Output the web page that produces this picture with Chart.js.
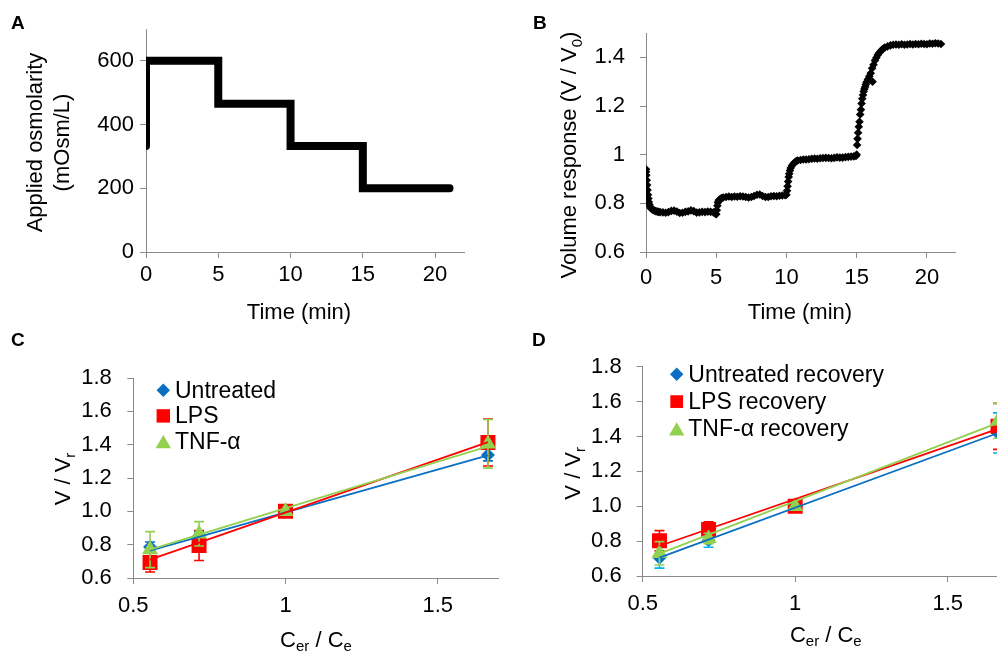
<!DOCTYPE html>
<html><head><meta charset="utf-8">
<script src="https://cdn.jsdelivr.net/npm/chart.js@4/dist/chart.umd.min.js"></script>
<style>
html,body{margin:0;padding:0;background:#fff;overflow:hidden;width:997px;height:653px;}
#wrap{position:relative;width:997px;height:653px;overflow:hidden;background:#fff;}
canvas{position:absolute;left:0;top:0;}
.lbl{position:absolute;font-family:'Liberation Sans',Arial,sans-serif;font-weight:bold;font-size:19px;line-height:1;color:#000;}
</style></head><body>
<div id="wrap">
<canvas id="cA" width="997" height="653"></canvas>
<canvas id="cB" width="997" height="653"></canvas>
<canvas id="cC" width="997" height="653"></canvas>
<canvas id="cD" width="1030" height="653"></canvas>
<div class="lbl" style="left:11px;top:13px">A</div>
<div class="lbl" style="left:533px;top:13px">B</div>
<div class="lbl" style="left:11px;top:330px">C</div>
<div class="lbl" style="left:532px;top:330px">D</div>
</div>
<script>
// ---------- Panel A: applied osmolarity ----------
const aTime = [0, 0, 5, 5, 10, 10, 15, 15, 21];
const aOsm  = [333, 600, 600, 465, 465, 333, 333, 200, 200];
const aXTicks = [0, 5, 10, 15, 20];
const aYTicks = [0, 200, 400, 600];

// ---------- Panel B: volume response ----------
const bTime = [
  0,0,0.02,0.05,0.08,0.11,0.14,0.17,0.2,0.24,0.28,0.33,0.4,0.5,0.6,0.7,0.8,0.9,1.0,
  1.2,1.4,1.6,1.8,2.0,2.2,2.4,2.6,2.8,3.0,3.2,3.4,3.6,3.8,4.0,4.2,4.4,4.6,4.8,4.95,
  5.0,5.04,5.08,5.12,5.17,5.22,5.3,5.4,5.5,5.7,5.9,6.1,6.3,6.5,6.7,6.9,7.1,7.3,7.5,7.7,7.9,8.1,8.3,8.5,8.7,8.9,9.1,9.3,9.5,9.7,9.9,
  10.0,10.04,10.08,10.12,10.16,10.2,10.25,10.3,10.4,10.5,10.6,10.7,10.8,11.0,11.2,11.4,11.6,11.8,12.0,12.2,12.4,12.6,12.8,13.0,13.2,13.4,13.6,13.8,14.0,14.2,14.4,14.6,14.8,14.95,
  15.0,15.03,15.06,15.1,15.15,15.2,15.25,15.3,15.35,15.4,15.45,15.5,15.55,15.6,15.65,15.7,15.8,15.9,16.0,16.1,16.13,16.2,16.3,16.4,16.5,16.6,16.7,16.8,16.9,17.0,17.2,17.4,17.6,17.8,18.0,18.2,18.4,18.6,18.8,19.0,19.2,19.4,19.6,19.8,20.0,20.2,20.4,20.6,20.8,21.0
];
const bVolume = [
  0.94,0.93,0.915,0.895,0.875,0.855,0.835,0.82,0.805,0.795,0.787,0.781,0.777,0.773,0.770,0.768,0.766,0.765,0.764,
  0.763,0.761,0.764,0.769,0.770,0.766,0.760,0.761,0.765,0.767,0.771,0.768,0.762,0.763,0.765,0.764,0.766,0.765,0.763,0.757,
  0.755,0.772,0.790,0.803,0.810,0.815,0.819,0.822,0.824,0.826,0.828,0.826,0.828,0.827,0.829,0.828,0.826,0.824,0.826,0.830,0.835,0.836,0.830,0.826,0.826,0.829,0.830,0.829,0.831,0.832,0.833,
  0.835,0.852,0.870,0.890,0.908,0.922,0.935,0.945,0.955,0.963,0.969,0.974,0.976,0.978,0.980,0.980,0.981,0.983,0.984,0.983,0.985,0.986,0.987,0.986,0.985,0.987,0.989,0.988,0.988,0.990,0.991,0.992,0.993,0.995,
  1.000,1.040,1.065,1.090,1.115,1.135,1.165,1.185,1.210,1.230,1.245,1.260,1.270,1.278,1.288,1.298,1.310,1.322,1.335,1.355,1.300,1.370,1.387,1.398,1.410,1.418,1.425,1.431,1.436,1.440,1.445,1.449,1.452,1.453,1.452,1.454,1.452,1.453,1.455,1.453,1.455,1.454,1.456,1.455,1.454,1.457,1.456,1.458,1.457,1.455
];
const bXTicks = [0, 5, 10, 15, 20];
const bYTicks = [0.6, 0.8, 1, 1.2, 1.4];

// ---------- Panels C & D ----------
const ratio = [0.555, 0.716, 1, 1.665];
const fitX = [0.555, 1.665];
const cdXTicks = [0.5, 1, 1.5];
const cdYTicks = [0.6, 0.8, 1.0, 1.2, 1.4, 1.6, 1.8];

const cUntreated = [0.786, 0.85, 1.0, 1.338];
const cUntreatedErr = [0.03, 0.03, 0, 0.035];
const cLPS = [0.693, 0.795, 1.0, 1.413];
const cLPSErr = [0.057, 0.09, 0, 0.141];
const cTNF = [0.77, 0.865, 1.0, 1.405];
const cTNFErr = [0.108, 0.073, 0, 0.146];
const cUntreatedFit = [0.764, 1.336];
const cLPSFit = [0.71, 1.415];
const cTNFFit = [0.77, 1.39];

const dUntreated = [0.705, 0.805, 1.0, 1.42];
const dUntreatedErr = [0.06, 0.04, 0, 0.115];
const dLPS = [0.802, 0.867, 1.0, 1.458];
const dLPSErr = [0.058, 0.044, 0, 0.132];
const dTNF = [0.73, 0.815, 1.0, 1.49];
const dTNFErr = [0.067, 0.03, 0, 0.1];
const dUntreatedFit = [0.705, 1.42];
const dLPSFit = [0.772, 1.443];
const dTNFFit = [0.728, 1.478];

// ---------- helpers ----------
const FONT = "'Liberation Sans', Arial, sans-serif";
const AXIS = '#898989';
const BLUE = '#0A6FC2', RED = '#FF0000', GREEN = '#92D050', CYAN = '#00B0F0';
const pts = (xs, ys) => xs.map((x, i) => ({x: x, y: ys[i]}));
const trim1 = v => String(+Number(v).toFixed(1));
const fix1 = v => Number(v).toFixed(1);

function axisCfg(isX, min, max, tickArr, fmt, pad, size) {
  return {
    type: 'linear', min: min, max: max,
    afterBuildTicks: s => { s.ticks = tickArr.map(v => ({value: v})); },
    afterFit: s => { if (isX) s.height = 50; else s.width = 60; },
    ticks: {callback: fmt, font: {family: FONT, size: size}, color: '#000', padding: pad, autoSkip: false, maxRotation: 0, minRotation: 0},
    grid: {display: true, drawOnChartArea: false, drawTicks: true, tickLength: 6, color: AXIS, lineWidth: 1},
    border: {display: true, color: AXIS, width: 1},
    title: {display: false}
  };
}
function baseOpts(L, T, R, B, cw, scales) {
  return {
    responsive: false, animation: false, events: [],
    layout: {padding: {left: L - 60, top: T, right: cw - R, bottom: 653 - B - 50}},
    scales: scales,
    plugins: {legend: {display: false}, tooltip: {enabled: false}}
  };
}
function makeTitles(items) {
  return {
    id: 'richTitles',
    afterDraw(chart) {
      const ctx = chart.ctx;
      items.forEach(it => {
        ctx.save();
        ctx.fillStyle = '#000';
        ctx.textAlign = 'left';
        ctx.textBaseline = 'alphabetic';
        const mainF = it.size + 'px ' + FONT, subF = it.sub + 'px ' + FONT;
        const widths = it.segs.map(s => { ctx.font = s[1] ? subF : mainF; return ctx.measureText(s[0]).width; });
        const total = widths.reduce((a, b) => a + b, 0);
        ctx.translate(it.x, it.y);
        if (it.rot) ctx.rotate(-Math.PI / 2);
        let x = -total / 2;
        it.segs.forEach((s, i) => {
          ctx.font = s[1] ? subF : mainF;
          ctx.fillText(s[0], x, s[1] ? it.dy : 0);
          x += widths[i];
        });
        ctx.restore();
      });
    }
  };
}
function drawMarker(ctx, style, r, x, y) {
  if (Chart.helpers && Chart.helpers.drawPoint) {
    Chart.helpers.drawPoint(ctx, {pointStyle: style, radius: r, rotation: 0, borderWidth: 0}, x, y);
  }
}
function makeLegend(cfg) {
  return {
    id: 'panelLegend',
    afterDraw(chart) {
      const ctx = chart.ctx, a = chart.chartArea;
      ctx.save();
      cfg.rows.forEach((di, i) => {
        const ds = chart.data.datasets[di];
        const cx = a.left + cfg.dx, cy = a.top + cfg.dy + i * cfg.rowH;
        const r = cfg.radius[i];
        ctx.fillStyle = ds.backgroundColor;
        drawMarker(ctx, ds.pointStyle, r, cx, cy + (ds.pointStyle === 'triangle' ? r / 4 : 0));
        ctx.fillStyle = '#000';
        ctx.font = cfg.size + 'px ' + FONT;
        ctx.textBaseline = 'middle';
        ctx.textAlign = 'left';
        ctx.fillText(ds.label, a.left + cfg.tx, cy + 1);
      });
      ctx.restore();
    }
  };
}
const errorBars = {
  id: 'errorBars',
  afterDatasetDraw(chart, args) {
    const ds = chart.data.datasets[args.index];
    if (!ds.errors) return;
    const ctx = chart.ctx, xs = chart.scales.x, ys = chart.scales.y;
    ctx.save();
    ctx.strokeStyle = ds.errorColor;
    ctx.lineWidth = 1.6;
    ds.data.forEach((p, i) => {
      const e = ds.errors[i];
      if (!e) return;
      const px = xs.getPixelForValue(p.x);
      const yt = ys.getPixelForValue(p.y + e), yb = ys.getPixelForValue(p.y - e);
      ctx.beginPath();
      ctx.moveTo(px, yt); ctx.lineTo(px, yb);
      ctx.moveTo(px - 5, yt); ctx.lineTo(px + 5, yt);
      ctx.moveTo(px - 5, yb); ctx.lineTo(px + 5, yb);
      ctx.stroke();
    });
    ctx.restore();
  }
};

// ---------- Chart A ----------
new Chart(document.getElementById('cA'), {
  type: 'scatter',
  data: {datasets: [{
    label: 'Applied osmolarity', data: pts(aTime, aOsm), showLine: true,
    borderColor: '#000', backgroundColor: '#000', borderWidth: 8, pointRadius: 0,
    borderCapStyle: 'round', borderJoinStyle: 'miter', tension: 0, clip: 0
  }]},
  options: baseOpts(146, 29, 464, 252, 997, {
    x: axisCfg(true, 0, 22, aXTicks, trim1, 4, 22),
    y: axisCfg(false, 0, 700, aYTicks, v => String(v), 6, 22)
  }),
  plugins: [makeTitles([
    {segs: [['Applied osmolarity']], x: 42, y: 142.5, rot: true, size: 22, sub: 15, dy: 5},
    {segs: [['(mOsm/L)']], x: 68.5, y: 142.5, rot: true, size: 22, sub: 15, dy: 5},
    {segs: [['Time (min)']], x: 299, y: 318.5, rot: false, size: 22, sub: 15, dy: 5}
  ])]
});

// ---------- Chart B ----------
new Chart(document.getElementById('cB'), {
  type: 'scatter',
  data: {datasets: [{
    label: 'Volume response', data: pts(bTime, bVolume),
    pointStyle: 'rectRot', pointRadius: 4.3, backgroundColor: '#000', borderColor: '#000', borderWidth: 0
  }]},
  options: baseOpts(646, 33, 955, 252, 997, {
    x: axisCfg(true, 0, 22, bXTicks, trim1, 6.5, 22),
    y: axisCfg(false, 0.6, 1.5, bYTicks, trim1, 15, 22)
  }),
  plugins: [makeTitles([
    {segs: [['Volume response (V / V'], ['0', true], [')']], x: 576, y: 155, rot: true, size: 22, sub: 15, dy: 6},
    {segs: [['Time (min)']], x: 800, y: 318.5, rot: false, size: 22, sub: 15, dy: 5}
  ])]
});

// ---------- Charts C & D ----------
function cdDatasets(u, uE, l, lE, t, tE, uF, lF, tF, names, uErrColor) {
  return [
    {label: names[0], data: pts(ratio, u), errors: uE, errorColor: uErrColor, pointStyle: 'rectRot', pointRadius: 7,
     backgroundColor: BLUE, borderColor: BLUE, borderWidth: 0, order: 2},
    {label: names[1], data: pts(ratio, l), errors: lE, errorColor: RED, pointStyle: 'rect', pointRadius: 10.6,
     backgroundColor: RED, borderColor: RED, borderWidth: 0, order: 1},
    {label: names[2], data: pts(ratio, t), errors: tE, errorColor: GREEN, pointStyle: 'triangle', pointRadius: 9.3,
     backgroundColor: GREEN, borderColor: GREEN, borderWidth: 0, order: 0},
    {label: 'fit-u', data: pts(fitX, uF), showLine: true, pointRadius: 0, borderColor: BLUE, borderWidth: 1.8, order: -1},
    {label: 'fit-l', data: pts(fitX, lF), showLine: true, pointRadius: 0, borderColor: RED, borderWidth: 1.8, order: -2},
    {label: 'fit-t', data: pts(fitX, tF), showLine: true, pointRadius: 0, borderColor: GREEN, borderWidth: 1.8, order: -3}
  ];
}

new Chart(document.getElementById('cC'), {
  type: 'scatter',
  data: {datasets: cdDatasets(cUntreated, cUntreatedErr, cLPS, cLPSErr, cTNF, cTNFErr,
    cUntreatedFit, cLPSFit, cTNFFit, ['Untreated', 'LPS', 'TNF-\u03b1'], BLUE)},
  options: baseOpts(133.3, 378, 498.6, 578, 997, {
    x: axisCfg(true, 0.5, 1.7, cdXTicks, trim1, 9, 22),
    y: axisCfg(false, 0.6, 1.8, cdYTicks, fix1, 15.5, 22)
  }),
  plugins: [errorBars,
    makeLegend({rows: [0, 1, 2], dx: 30, dy: 12.2, rowH: 25.7, tx: 41.7, size: 23, radius: [6.7, 9.5, 8.9]}),
    makeTitles([
      {segs: [['V / V'], ['r', true]], x: 70, y: 479, rot: true, size: 22, sub: 15, dy: 5},
      {segs: [['C'], ['er', true], [' / C'], ['e', true]], x: 316, y: 646.5, rot: false, size: 22, sub: 15, dy: 4}
    ])]
});

new Chart(document.getElementById('cD'), {
  type: 'scatter',
  data: {datasets: cdDatasets(dUntreated, dUntreatedErr, dLPS, dLPSErr, dTNF, dTNFErr,
    dUntreatedFit, dLPSFit, dTNFFit, ['Untreated recovery', 'LPS recovery', 'TNF-\u03b1 recovery'], CYAN)},
  options: baseOpts(642.7, 366.7, 1008.7, 576, 1030, {
    x: axisCfg(true, 0.5, 1.7, cdXTicks, trim1, 9, 22),
    y: axisCfg(false, 0.6, 1.8, cdYTicks, fix1, 15, 22)
  }),
  plugins: [errorBars,
    makeLegend({rows: [0, 1, 2], dx: 34, dy: 7.6, rowH: 27.3, tx: 45.6, size: 23, radius: [6.7, 9, 8.9]}),
    makeTitles([
      {segs: [['V / V'], ['r', true]], x: 580, y: 473.3, rot: true, size: 22, sub: 15, dy: 5},
      {segs: [['C'], ['er', true], [' / C'], ['e', true]], x: 825.8, y: 641.7, rot: false, size: 22, sub: 15, dy: 4}
    ])]
});
</script>
</body></html>
